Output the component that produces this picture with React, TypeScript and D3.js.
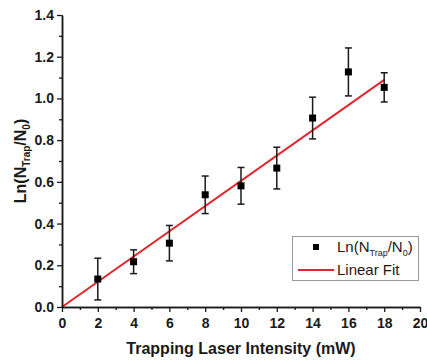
import React, { useEffect, useRef } from "react";
import * as d3 from "d3";

// Data
const intensity = [2, 4, 6, 8, 10, 12, 14, 16, 18];
const lnRatio = [0.134, 0.217, 0.306, 0.538, 0.581, 0.666, 0.906, 1.127, 1.053];
const lnError = [0.1, 0.057, 0.085, 0.09, 0.088, 0.1, 0.1, 0.115, 0.07];
const fitX = [0, 18];
const fitSlope = 0.0605;

const xTicks = [0, 2, 4, 6, 8, 10, 12, 14, 16, 18, 20];
const xMinor = d3.range(1, 20, 2);
const yTicks = [0, 0.2, 0.4, 0.6, 0.8, 1.0, 1.2, 1.4];
const yMinor = [0.1, 0.3, 0.5, 0.7, 0.9, 1.1, 1.3];

const width = 427;
const height = 360;
const margin = { top: 15, right: 7, bottom: 53, left: 62 };
const font = "'Liberation Sans', Arial, sans-serif";
const ink = "#1a1a1a";
const red = "#e3262b";

const App = () => {
  const ref = useRef<SVGSVGElement>(null);

  useEffect(() => {
    if (!ref.current) return;
    const svg = d3.select(ref.current);
    svg.selectAll("*").remove();

    const x = d3
      .scaleLinear()
      .domain([0, 20])
      .range([margin.left, width - margin.right]);
    const y = d3
      .scaleLinear()
      .domain([0, 1.4])
      .range([height - margin.bottom, margin.top]);
    const x0 = height - margin.bottom;

    // Fit line
    const line = d3
      .line<number>()
      .x((d) => x(d))
      .y((d) => y(d * fitSlope));
    svg
      .append("path")
      .attr("d", line(fitX))
      .attr("fill", "none")
      .attr("stroke", red)
      .attr("stroke-width", 2);

    // Error bars
    const g = svg.append("g");
    intensity.forEach((v, i) => {
      const cx = x(v);
      const top = y(lnRatio[i] + lnError[i]);
      const bot = y(lnRatio[i] - lnError[i]);
      g.append("line")
        .attr("x1", cx).attr("x2", cx)
        .attr("y1", top).attr("y2", bot)
        .attr("stroke", ink).attr("stroke-width", 1.5);
      [top, bot].forEach((yy) =>
        g.append("line")
          .attr("x1", cx - 3.5).attr("x2", cx + 3.5)
          .attr("y1", yy).attr("y2", yy)
          .attr("stroke", ink).attr("stroke-width", 1.5)
      );
      g.append("rect")
        .attr("x", cx - 3.5).attr("y", y(lnRatio[i]) - 3.5)
        .attr("width", 7).attr("height", 7)
        .attr("fill", "#000");
    });

    // Axes
    const styleAxis = (sel: any) => {
      sel.selectAll("path").attr("stroke", ink).attr("stroke-width", 1.5);
      sel.selectAll("line").attr("stroke", ink).attr("stroke-width", 1.3);
      sel.selectAll("text")
        .attr("fill", ink)
        .style("font-family", font)
        .style("font-size", "14px")
        .style("font-weight", "bold");
    };

    svg.append("g")
      .attr("transform", `translate(0,${x0})`)
      .call(d3.axisBottom(x).tickValues(xMinor).tickSize(3).tickSizeOuter(0).tickFormat(() => ""))
      .call(styleAxis);
    svg.append("g")
      .attr("transform", `translate(0,${x0})`)
      .call(d3.axisBottom(x).tickValues(xTicks).tickSize(5).tickPadding(6).tickSizeOuter(0).tickFormat(d3.format("d")))
      .call(styleAxis);

    svg.append("g")
      .attr("transform", `translate(${margin.left},0)`)
      .call(d3.axisLeft(y).tickValues(yMinor).tickSize(3).tickSizeOuter(0).tickFormat(() => ""))
      .call(styleAxis);
    svg.append("g")
      .attr("transform", `translate(${margin.left},0)`)
      .call(d3.axisLeft(y).tickValues(yTicks).tickSize(5).tickPadding(3).tickSizeOuter(0).tickFormat(d3.format(".1f")))
      .call(styleAxis);

    // Axis titles
    svg.append("text")
      .attr("x", 241)
      .attr("y", 354)
      .attr("text-anchor", "middle")
      .attr("fill", ink)
      .style("font-family", font)
      .style("font-size", "16px")
      .style("font-weight", "bold")
      .text("Trapping Laser Intensity (mW)");

    const yl = svg.append("text")
      .attr("transform", `translate(26,${(margin.top + x0) / 2}) rotate(-90)`)
      .attr("text-anchor", "middle")
      .attr("fill", ink)
      .style("font-family", font)
      .style("font-size", "16px")
      .style("font-weight", "bold");
    yl.append("tspan").text("Ln(N");
    yl.append("tspan").attr("dy", 4).style("font-size", "10px").text("Trap");
    yl.append("tspan").attr("dy", -4).text("/N");
    yl.append("tspan").attr("dy", 4).style("font-size", "10px").text("0");
    yl.append("tspan").attr("dy", -4).text(")");

    // Legend
    const lg = svg.append("g");
    lg.append("rect")
      .attr("x", 292.5).attr("y", 236.5)
      .attr("width", 126).attr("height", 44)
      .attr("fill", "#fff")
      .attr("stroke", "#9a9a9a");
    lg.append("rect")
      .attr("x", 313).attr("y", 244)
      .attr("width", 6).attr("height", 6)
      .attr("fill", "#000");
    lg.append("line")
      .attr("x1", 298).attr("x2", 334)
      .attr("y1", 270).attr("y2", 270)
      .attr("stroke", red).attr("stroke-width", 2);
    const t1 = lg.append("text")
      .attr("x", 337).attr("y", 252)
      .attr("fill", ink)
      .style("font-family", font)
      .style("font-size", "15px");
    t1.append("tspan").text("Ln(N");
    t1.append("tspan").attr("dy", 4).style("font-size", "9px").text("Trap");
    t1.append("tspan").attr("dy", -4).text("/N");
    t1.append("tspan").attr("dy", 4).style("font-size", "9px").text("0");
    t1.append("tspan").attr("dy", -4).text(")");
    lg.append("text")
      .attr("x", 337).attr("y", 275)
      .attr("fill", ink)
      .style("font-family", font)
      .style("font-size", "15px")
      .text("Linear Fit");
  }, []);

  return (
    <svg
      ref={ref}
      width={width}
      height={height}
      style={{ position: "absolute", left: 0, top: 0, background: "#fff" }}
    />
  );
};

export default App;
